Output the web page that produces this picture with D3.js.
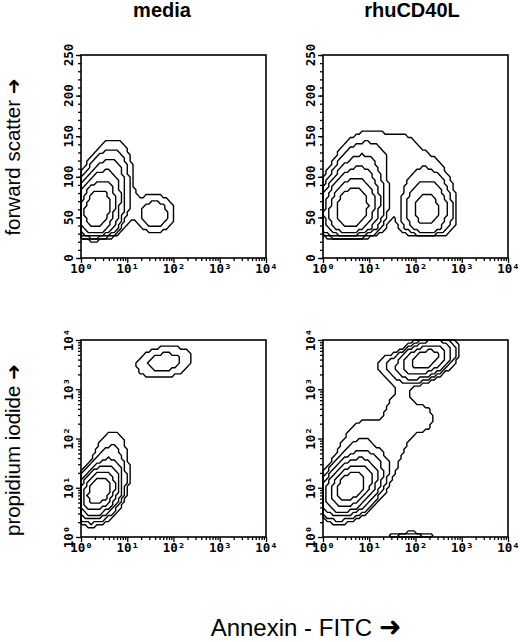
<!DOCTYPE html>
<html><head><meta charset="utf-8">
<script src="https://cdn.jsdelivr.net/npm/d3@7"></script>
<style>body{margin:0;background:#fff} svg{display:block}</style>
</head><body><svg id="c" width="520" height="642"></svg>
<script>
// ---------- data ----------
const colTitles = ["media", "rhuCD40L"];
const rowTitles = ["forward scatter", "propidium iodide"];
const xTitle = "Annexin - FITC";
const decadeTicks = [1, 10, 100, 1000, 10000];
const decadeLabels = ["10⁰", "10¹", "10²", "10³", "10⁴"];
const fscTicks = [0, 50, 100, 150, 200, 250];
const fscLabels = ["0", "50", "100", "150", "200", "250"];
const contourLevels = [0.02, 0.04, 0.08, 0.16, 0.32, 0.6];
const fscCutoff = 28;
// cell populations: [log10 Annexin, FSC (or log10 PI), sd x, sd y, correlation, peak weight]
const mediaFSC = [
  [0.33, 58, 0.23, 20, 0.15, 1],
  [0.55, 82, 0.27, 30, 0.25, 0.185],
  [1.60, 54, 0.27, 16, 0.00, 0.065],
  [1.05, 66, 0.15, 12, 0.00, 0.012]
];
const cd40FSC = [
  [0.62, 60, 0.30, 20, 0.15, 1],
  [0.70, 82, 0.32, 30, 0.25, 0.185],
  [2.24, 58, 0.30, 21, 0.00, 0.22],
  [2.25, 95, 0.32, 22, 0.00, 0.03],
  [1.40, 130, 0.65, 25, 0.00, 0.025],
  [1.75, 132, 0.20, 14, 0.00, 0.012]
];
const mediaPI = [
  [0.38, 0.92, 0.22, 0.25, 0.30, 1],
  [0.62, 1.40, 0.25, 0.50, 0.20, 0.06],
  [1.80, 3.55, 0.42, 0.22, 0.20, 0.055]
];
const cd40PI = [
  [0.60, 1.03, 0.28, 0.27, 0.35, 1],
  [0.80, 1.60, 0.35, 0.55, 0.20, 0.05],
  [1.30, 1.30, 0.30, 0.35, 0.60, 0.02],
  [1.70, 2.45, 0.30, 0.55, 0.00, 0.03],
  [2.20, 2.40, 0.18, 0.20, 0.00, 0.028],
  [2.20, 3.60, 0.30, 0.20, 0.40, 0.5],
  [1.40, 3.50, 0.20, 0.15, 0.00, 0.03],
  [1.90, -0.03, 0.35, 0.08, 0.00, 0.07]
];
const panelData = [[mediaFSC, cd40FSC], [mediaPI, cd40PI]];

// ---------- layout ----------
const svg = d3.select("#c");
const colX = [81, 323], panelW = 185;
const rowY = [55, 340], rowH = [203, 197];
const titleX = [162, 412];
const NX = 64, NY = 64;
const tickFont = "'DejaVu Sans Mono', monospace";

function density(pops, gx, gy, isFSC) {
  let s = 0;
  for (const [cx, cy, sx, sy, r, w] of pops) {
    const zx = (gx - cx) / sx, zy = (gy - cy) / sy;
    const q = (zx * zx - 2 * r * zx * zy + zy * zy) / (1 - r * r);
    s += w * Math.exp(-0.5 * q);
  }
  if (isFSC) s *= 1 / (1 + Math.exp(-(gy - fscCutoff) / 3));
  return s;
}

for (let row = 0; row < 2; row++) {
  for (let col = 0; col < 2; col++) {
    const x0 = colX[col], y0 = rowY[row], h = rowH[row];
    const g = svg.append("g");
    const xs = d3.scaleLog().domain([1, 1e4]).range([x0, x0 + panelW]);
    const isFSC = row === 0;
    const ys = isFSC ? d3.scaleLinear().domain([0, 250]).range([y0 + h, y0])
                     : d3.scaleLog().domain([1, 1e4]).range([y0 + h, y0]);
    const yMax = isFSC ? 250 : 4;
    const pops = panelData[row][col];
    const vals = new Float64Array(NX * NY);
    for (let j = 0; j < NY; j++)
      for (let i = 0; i < NX; i++)
        vals[i + j * NX] = density(pops, (i + 0.5) / NX * 4, (j + 0.5) / NY * yMax, isFSC);
    const contours = d3.contours().size([NX, NY]).smooth(false).thresholds(contourLevels)(vals);
    const toY = gy => isFSC ? gy / NY * 250 : Math.pow(10, gy / NY * 4);
    const proj = d3.geoTransform({
      point(px, py) { this.stream.point(xs(Math.pow(10, px / NX * 4)), ys(toY(py))); }
    });
    const path = d3.geoPath(proj);
    g.selectAll("path.ct").data(contours).join("path").attr("class", "ct")
      .attr("d", path).attr("fill", "none").attr("stroke", "#000")
      .attr("stroke-width", 1.4).attr("stroke-linejoin", "miter");

    // x axis
    const minorX = [];
    for (let e = 0; e < 4; e++) for (let m = 2; m <= 9; m++) minorX.push(m * Math.pow(10, e));
    const axB = g.append("g").attr("transform", `translate(0,${y0 + h})`);
    axB.call(d3.axisBottom(xs).tickValues(minorX).tickSize(3).tickFormat(""));
    const axB2 = g.append("g").attr("transform", `translate(0,${y0 + h})`);
    axB2.call(d3.axisBottom(xs).tickValues(decadeTicks).tickSize(5).tickFormat((d, i) => decadeLabels[i]));
    [axB, axB2].forEach(a => { a.select(".domain").remove(); a.selectAll("line").attr("stroke-width", 1.3); });
    axB2.selectAll("text").attr("font-family", tickFont).attr("font-weight", "bold")
      .attr("font-size", 12.5).attr("dy", "0.55em").attr("y", 8);

    // y axis
    const axL = g.append("g").attr("transform", `translate(${x0},0)`);
    const axL2 = g.append("g").attr("transform", `translate(${x0},0)`);
    let majorY, labelsY;
    if (isFSC) {
      axL.call(d3.axisLeft(ys).tickValues(d3.range(0, 251, 10)).tickSize(3).tickFormat(""));
      majorY = fscTicks; labelsY = fscLabels;
    } else {
      axL.call(d3.axisLeft(ys).tickValues(minorX).tickSize(3).tickFormat(""));
      majorY = decadeTicks; labelsY = decadeLabels;
    }
    axL2.call(d3.axisLeft(ys).tickValues(majorY).tickSize(5).tickFormat(""));
    [axL, axL2].forEach(a => { a.select(".domain").remove(); a.selectAll("line").attr("stroke-width", 1.3); });
    g.selectAll("text.yl").data(majorY).join("text").attr("class", "yl")
      .attr("transform", d => `translate(${x0 - 12},${ys(d)}) rotate(-90)`)
      .attr("text-anchor", "middle").attr("dy", "0.35em")
      .attr("font-family", tickFont).attr("font-weight", "bold").attr("font-size", 12.5)
      .text((d, i) => labelsY[i]);

    // frame
    g.append("rect").attr("x", x0).attr("y", y0).attr("width", panelW).attr("height", h)
      .attr("fill", "none").attr("stroke", "#000").attr("stroke-width", 1.6);
  }
}

// column titles
svg.selectAll("text.ct").data(colTitles).join("text").attr("class", "ct")
  .attr("x", (d, i) => titleX[i]).attr("y", 17)
  .attr("text-anchor", "middle").attr("font-family", "'Liberation Sans', Arial, sans-serif")
  .attr("font-weight", "bold").attr("font-size", 20).text(d => d);

// row titles (rotated) with arrows
const rowCenters = [157, 450];
rowTitles.forEach((t, i) => {
  const tx = svg.append("text")
    .attr("transform", `translate(20,${rowCenters[i]}) rotate(-90)`)
    .attr("text-anchor", "middle").attr("font-family", "'Liberation Sans', Arial, sans-serif")
    .attr("font-size", 20.5);
  tx.append("tspan").text(t + "  ");
  tx.append("tspan").attr("font-family", "'DejaVu Sans'").attr("font-weight", "bold").attr("font-size", 19).text("➜");
});

// x title
const xt = svg.append("text").attr("x", 306).attr("y", 636).attr("text-anchor", "middle")
  .attr("font-family", "'Liberation Sans', Arial, sans-serif").attr("font-size", 24);
xt.append("tspan").text(xTitle + "  ");
xt.append("tspan").attr("font-family", "'DejaVu Sans'").attr("font-weight", "bold").attr("font-size", 27).text("➜");
</script></body></html>
